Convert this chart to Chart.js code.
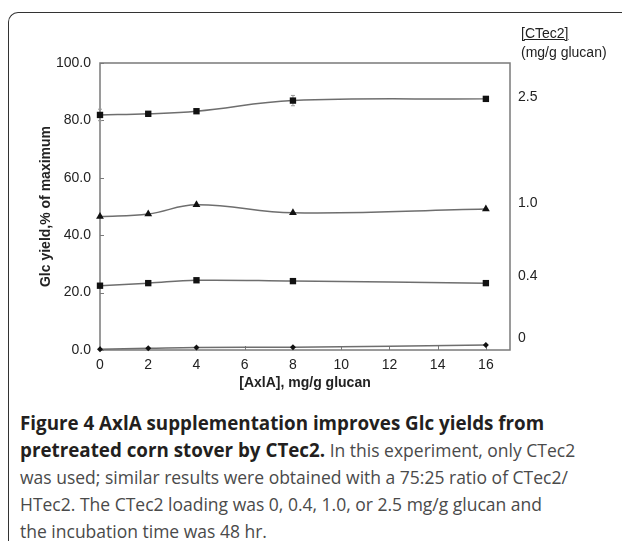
<!DOCTYPE html>
<html>
<head>
<meta charset="utf-8">
<script src="https://cdn.jsdelivr.net/npm/chart.js@4.4.1/dist/chart.umd.min.js"></script>
<style>
  body { margin: 0; background: #fff; }
  #wrap { position: relative; width: 622px; height: 545px; overflow: hidden; }
  #frame {
    position: absolute; left: 8px; top: 12px; width: 640px; height: 528px;
    border-left: 1.5px solid #333; border-top: 1.5px solid #333;
    border-top-left-radius: 10px;
  }
  #chart { position: absolute; left: 0; top: 0; }
  #unit {
    position: absolute; left: 521px; top: 24px;
    font: 14px "Liberation Sans", Arial, sans-serif; color: #222; line-height: 19px;
  }
  #unit u { text-decoration-thickness: 1px; }
  #caption {
    position: absolute; left: 20px; top: 410px;
    font: 17.5px "Open Sans", sans-serif; line-height: 27px; color: #4a4a4a;
    white-space: nowrap;
  }
  #caption b { color: #231f20; font-weight: 700; font-size: 18.8px; }
</style>
</head>
<body>
<div id="wrap">
  <div id="frame"></div>
  <canvas id="chart" width="622" height="405"></canvas>
  <div id="unit"><u>[CTec2]</u><br>(mg/g glucan)</div>
  <div id="caption"><b>Figure 4 AxlA supplementation improves Glc yields from<br>pretreated corn stover by CTec2.</b> In this experiment, only CTec2<br>was used; similar results were obtained with a 75:25 ratio of CTec2/<br>HTec2. The CTec2 loading was 0, 0.4, 1.0, or 2.5 mg/g glucan and<br>the incubation time was 48 hr.</div>
</div>
<script>
// AxlA dose (mg/g glucan) and Glc yield (% of maximum) per CTec2 loading
const axlaDose = [0, 2, 4, 8, 16];
const yieldCtec25 = [81.9, 82.3, 83.2, 86.9, 87.5];
const errCtec25 = [2.0, 0, 0, 1.8, 0];
const yieldCtec10 = [46.5, 47.4, 50.6, 47.8, 49.1];
const yieldCtec04 = [22.4, 23.3, 24.3, 24.0, 23.3];
const yieldCtec0 = [0.3, 0.6, 0.9, 1.0, 1.7];

const xTicks = [0, 2, 4, 6, 8, 10, 12, 14, 16];
const yTicks = [0, 20, 40, 60, 80, 100];
// series labels shown on the right-hand side
const loadingLabels = ['2.5', '1.0', '0.4', '0'];
const loadingLabelAt = [88.2, 51.2, 25.8, 4.2];

const FONT = '"Liberation Sans", Arial, sans-serif';

function toPoints(ys) {
    return axlaDose.map((x, i) => ({ x: x, y: ys[i] }));
}

function makeSeries(label, ys, style, radius) {
    return {
        label: label,
        data: toPoints(ys),
        borderColor: '#6e6e6e',
        borderWidth: 1.5,
        tension: 0.4,
        clip: false,
        pointStyle: style,
        pointRadius: radius,
        pointBackgroundColor: '#111',
        pointBorderColor: '#111',
        pointBorderWidth: 0
    };
}

// plot frame, inward tick marks and error bars
const decorations = {
    id: 'decorations',
    beforeDatasetsDraw(chart) {
        const { ctx, chartArea: a, scales } = chart;
        ctx.save();
        ctx.strokeStyle = '#7a7a7a';
        ctx.lineWidth = 1.5;
        ctx.strokeRect(a.left, a.top, a.right - a.left, a.bottom - a.top);
        ctx.lineWidth = 1;
        ctx.beginPath();
        xTicks.forEach(v => {
            const px = Math.round(scales.x.getPixelForValue(v)) + 0.5;
            ctx.moveTo(px, a.bottom);
            ctx.lineTo(px, a.bottom - 4);
        });
        yTicks.forEach(v => {
            const py = Math.round(scales.y.getPixelForValue(v)) + 0.5;
            ctx.moveTo(a.left, py);
            ctx.lineTo(a.left + 4, py);
        });
        ctx.stroke();

        ctx.strokeStyle = '#999';
        ctx.beginPath();
        axlaDose.forEach((x, i) => {
            const e = errCtec25[i];
            if (!e) return;
            const px = scales.x.getPixelForValue(x);
            const y1 = scales.y.getPixelForValue(yieldCtec25[i] + e);
            const y2 = scales.y.getPixelForValue(yieldCtec25[i] - e);
            ctx.moveTo(px, y1); ctx.lineTo(px, y2);
            ctx.moveTo(px - 2, y1); ctx.lineTo(px + 2, y1);
            ctx.moveTo(px - 2, y2); ctx.lineTo(px + 2, y2);
        });
        ctx.stroke();
        ctx.restore();
    }
};

new Chart(document.getElementById('chart'), {
    type: 'line',
    data: {
        datasets: [
            makeSeries('2.5', yieldCtec25, 'rect', 4.5),
            makeSeries('1.0', yieldCtec10, 'triangle', 4.5),
            makeSeries('0.4', yieldCtec04, 'rect', 4.5),
            makeSeries('0', yieldCtec0, 'rectRot', 3)
        ]
    },
    options: {
        responsive: false,
        animation: false,
        layout: { padding: { left: 30, top: 63, right: 0, bottom: 0 } },
        plugins: {
            legend: { display: false },
            tooltip: { enabled: false }
        },
        scales: {
            x: {
                type: 'linear',
                min: 0,
                max: 17,
                afterBuildTicks: s => { s.ticks = xTicks.map(v => ({ value: v })); },
                afterFit: s => { s.height = 55; },
                grid: { display: false, drawTicks: false },
                border: { display: false },
                ticks: {
                    padding: 7,
                    color: '#222',
                    font: { family: FONT, size: 14 },
                    maxRotation: 0
                },
                title: {
                    display: true,
                    text: '[AxlA], mg/g glucan',
                    color: '#222',
                    font: { family: FONT, size: 14, weight: 'bold' },
                    padding: { top: 0, bottom: 13 }
                }
            },
            y: {
                min: 0,
                max: 100,
                afterBuildTicks: s => { s.ticks = yTicks.map(v => ({ value: v })); },
                afterFit: s => { s.width = 70; },
                grid: { display: false, drawTicks: false },
                border: { display: false },
                ticks: {
                    padding: 9,
                    color: '#222',
                    font: { family: FONT, size: 14 },
                    callback: v => v.toFixed(1)
                },
                title: {
                    display: true,
                    text: 'Glc yield,% of maximum',
                    color: '#222',
                    font: { family: FONT, size: 14, weight: 'bold' },
                    padding: { top: 8, bottom: 0 }
                }
            },
            yRight: {
                position: 'right',
                min: 0,
                max: 100,
                afterBuildTicks: s => { s.ticks = loadingLabelAt.map(v => ({ value: v })); },
                afterFit: s => { s.width = 112; },
                grid: { display: false, drawTicks: false },
                border: { display: false },
                ticks: {
                    padding: 8,
                    color: '#222',
                    font: { family: FONT, size: 14 },
                    callback: (v, i) => loadingLabels[i]
                }
            }
        }
    },
    plugins: [decorations]
});
</script>
</body>
</html>
